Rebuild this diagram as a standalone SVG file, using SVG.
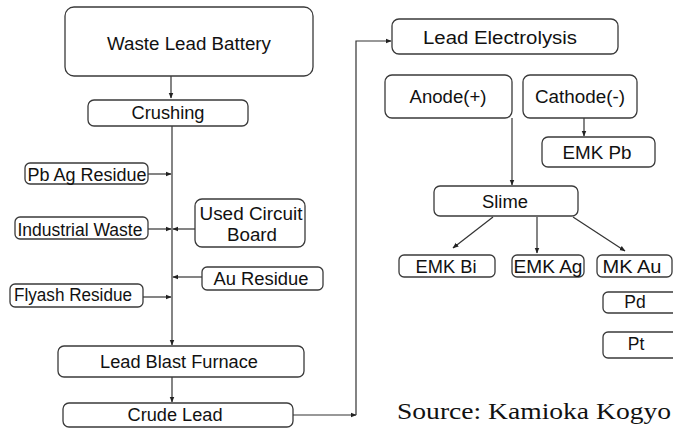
<svg xmlns="http://www.w3.org/2000/svg" width="673" height="428" viewBox="0 0 673 428">
<defs>
<marker id="ah" viewBox="0 0 10 10" refX="9" refY="5" markerWidth="6" markerHeight="6" orient="auto" markerUnits="userSpaceOnUse">
<path d="M0,1 L10,5 L0,9 z" fill="#222"/>
</marker>
<style>
.box{fill:#fff;stroke:#3a3a3a;stroke-width:1.3}
.t{font-family:"Liberation Sans",Arial,sans-serif;font-size:17.5px;fill:#111;text-anchor:middle}
.c{fill:none;stroke:#333;stroke-width:1.2}
.src{font-family:"Liberation Serif","Times New Roman",serif;font-size:24px;fill:#111}
</style>
</defs>
<rect width="673" height="428" fill="#fff"/>
<g id="connectors">
<path class="c" d="M171,76 V98" marker-end="url(#ah)"/>
<path class="c" d="M172,126 V345" marker-end="url(#ah)"/>
<path class="c" d="M148,174 H171" marker-end="url(#ah)"/>
<path class="c" d="M148,229 H171" marker-end="url(#ah)"/>
<path class="c" d="M195,229 H173" marker-end="url(#ah)"/>
<path class="c" d="M202,277 H173" marker-end="url(#ah)"/>
<path class="c" d="M143,297 H171" marker-end="url(#ah)"/>
<path class="c" d="M172,377 V402" marker-end="url(#ah)"/>
<path class="c" d="M293,415 H356" marker-end="url(#ah)"/>
<path class="c" d="M356,415 V41 H391" marker-end="url(#ah)"/>
<path class="c" d="M512,118 V185" marker-end="url(#ah)"/>
<path class="c" d="M584,118 V136" marker-end="url(#ah)"/>
<path class="c" d="M493,217 L453,248" marker-end="url(#ah)"/>
<path class="c" d="M537,217 V253" marker-end="url(#ah)"/>
<path class="c" d="M573,217 L625,251" marker-end="url(#ah)"/>
</g>
<g id="waste-lead-battery"><rect class="box" x="65" y="7" width="248" height="69" rx="9"/><text class="t" x="189" y="50" font-size="18.5" textLength="164" lengthAdjust="spacingAndGlyphs">Waste Lead Battery</text></g>
<g id="crushing"><rect class="box" x="88" y="100" width="160" height="26" rx="6"/><text class="t" x="168" y="119" textLength="73" lengthAdjust="spacingAndGlyphs">Crushing</text></g>
<g id="pb-ag-residue"><rect class="box" x="25" y="163" width="123" height="21" rx="5"/><text class="t" x="87" y="181" textLength="119" lengthAdjust="spacingAndGlyphs">Pb Ag Residue</text></g>
<g id="industrial-waste"><rect class="box" x="15" y="217" width="133" height="22" rx="5"/><text class="t" x="80" y="236" textLength="125" lengthAdjust="spacingAndGlyphs">Industrial Waste</text></g>
<g id="used-circuit-board"><rect class="box" x="195" y="199" width="110" height="48" rx="7"/><text class="t" x="251" y="220" textLength="103" lengthAdjust="spacingAndGlyphs">Used Circuit</text><text class="t" x="252" y="241" textLength="50" lengthAdjust="spacingAndGlyphs">Board</text></g>
<g id="au-residue"><rect class="box" x="202" y="267" width="121" height="23" rx="5"/><text class="t" x="261" y="285" textLength="95" lengthAdjust="spacingAndGlyphs">Au Residue</text></g>
<g id="flyash-residue"><rect class="box" x="10" y="284" width="133" height="23" rx="5"/><text class="t" x="73" y="301" textLength="118" lengthAdjust="spacingAndGlyphs">Flyash Residue</text></g>
<g id="lead-blast-furnace"><rect class="box" x="58" y="346" width="246" height="31" rx="6"/><text class="t" x="179" y="368" textLength="158" lengthAdjust="spacingAndGlyphs">Lead Blast Furnace</text></g>
<g id="crude-lead"><rect class="box" x="63" y="403" width="230" height="24" rx="6"/><text class="t" x="175" y="421" textLength="95" lengthAdjust="spacingAndGlyphs">Crude Lead</text></g>
<g id="lead-electrolysis"><rect class="box" x="392" y="19" width="226" height="35" rx="7"/><text class="t" x="500" y="44" textLength="154" lengthAdjust="spacingAndGlyphs">Lead Electrolysis</text></g>
<g id="anode"><rect class="box" x="385" y="75" width="127" height="43" rx="7"/><text class="t" x="448" y="103" textLength="77" lengthAdjust="spacingAndGlyphs">Anode(+)</text></g>
<g id="cathode"><rect class="box" x="523" y="75" width="114" height="43" rx="7"/><text class="t" x="580" y="103" textLength="90" lengthAdjust="spacingAndGlyphs">Cathode(-)</text></g>
<g id="emk-pb"><rect class="box" x="542" y="137" width="113" height="30" rx="6"/><text class="t" x="597" y="159" textLength="69" lengthAdjust="spacingAndGlyphs">EMK Pb</text></g>
<g id="slime"><rect class="box" x="434" y="186" width="144" height="30" rx="6"/><text class="t" x="505" y="208" textLength="46" lengthAdjust="spacingAndGlyphs">Slime</text></g>
<g id="emk-bi"><rect class="box" x="399" y="255" width="96" height="22" rx="5"/><text class="t" x="446" y="273" textLength="61" lengthAdjust="spacingAndGlyphs">EMK Bi</text></g>
<g id="emk-ag"><rect class="box" x="512" y="255" width="72" height="22" rx="5"/><text class="t" x="548" y="273" textLength="69" lengthAdjust="spacingAndGlyphs">EMK Ag</text></g>
<g id="mk-au"><rect class="box" x="597" y="255" width="75" height="22" rx="5"/><text class="t" x="632" y="273" textLength="59" lengthAdjust="spacingAndGlyphs">MK Au</text></g>
<g id="pd"><rect class="box" x="603" y="292" width="80" height="21" rx="5"/><text class="t" x="635" y="308">Pd</text></g>
<g id="pt"><rect class="box" x="603" y="332" width="80" height="26" rx="5"/><text class="t" x="636" y="350">Pt</text></g>
<text class="src" x="397" y="419" textLength="274" lengthAdjust="spacingAndGlyphs">Source: Kamioka Kogyo</text>
</svg>
